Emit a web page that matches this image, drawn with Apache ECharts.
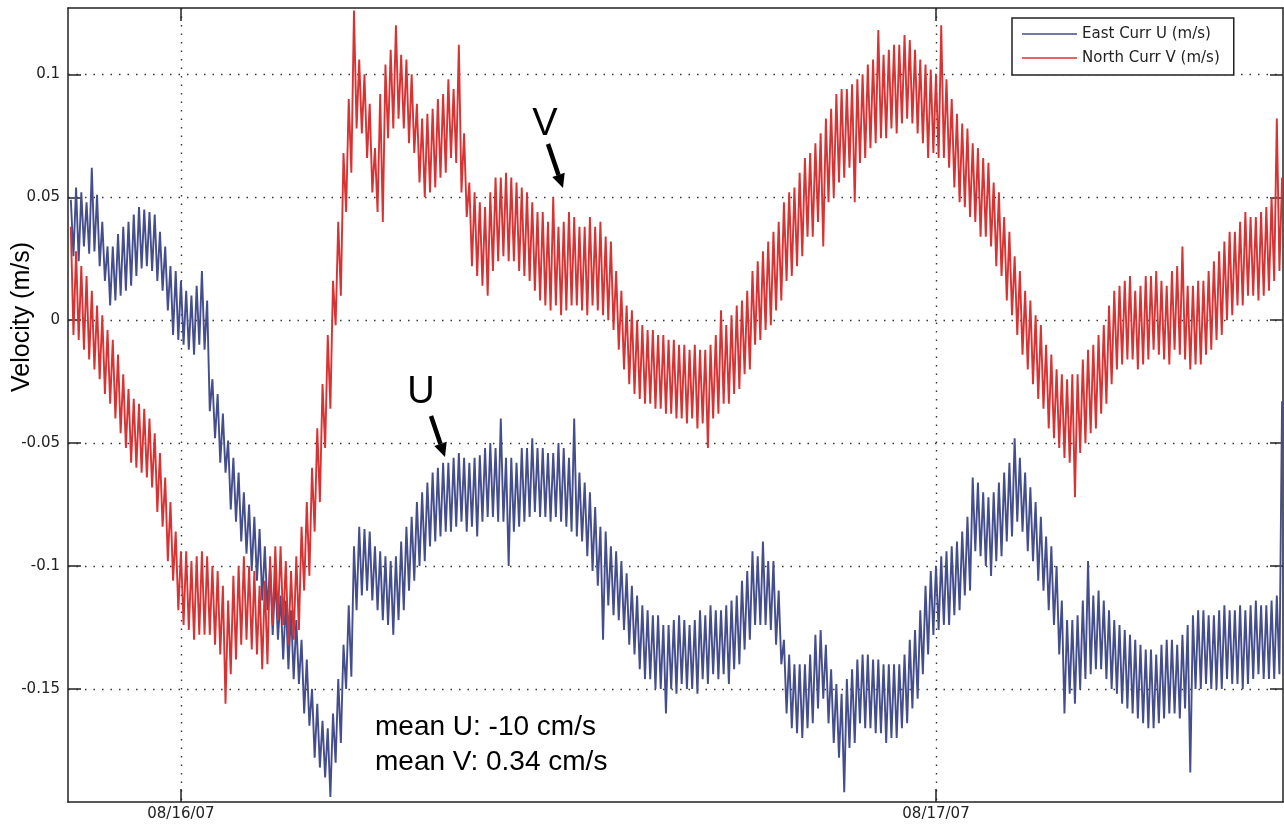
<!DOCTYPE html>
<html>
<head>
<meta charset="utf-8">
<title>Velocity</title>
<script src="https://cdn.jsdelivr.net/npm/echarts@6/dist/echarts.min.js"></script>
<style>
  html, body { margin: 0; padding: 0; background: #fff; }
  #main { width: 1284px; height: 824px; }
</style>
</head>
<body>
<div id="main"></div>
<script>
// current meter record, one sample every 5 minutes, hours from 08/16/07 00:00
var startHour = -3.5;
var stepHour = 5 / 60;
var dayTicks = [0, 24];
var dayLabels = ['08/16/07', '08/17/07'];
var velTicks = [-0.15, -0.1, -0.05, 0, 0.05, 0.1];
var seriesNames = ['East Curr U (m/s)', 'North Curr V (m/s)'];

// East component U (m/s)
var eastU = [
  0.049, 0.026, 0.054, 0.024, 0.052, 0.030, 0.048, 0.027, 0.062, 0.028, 0.051, 0.022,
  0.040, 0.016, 0.030, 0.006, 0.030, 0.008, 0.035, 0.010, 0.038, 0.012, 0.040, 0.014,
  0.043, 0.018, 0.046, 0.021, 0.045, 0.022, 0.044, 0.020, 0.043, 0.016, 0.036, 0.012,
  0.030, 0.004, 0.022, -0.006, 0.020, -0.008, 0.016, -0.010, 0.012, -0.012, 0.010, -0.014,
  0.014, -0.010, 0.020, -0.012, 0.008, -0.037, -0.024, -0.048, -0.030, -0.058, -0.038, -0.062,
  -0.049, -0.077, -0.056, -0.082, -0.062, -0.090, -0.070, -0.095, -0.075, -0.102, -0.080, -0.106,
  -0.085, -0.114, -0.092, -0.118, -0.100, -0.128, -0.104, -0.130, -0.112, -0.138, -0.114, -0.142,
  -0.118, -0.146, -0.122, -0.148, -0.130, -0.160, -0.138, -0.165, -0.150, -0.178, -0.156, -0.182,
  -0.163, -0.186, -0.166, -0.194, -0.160, -0.180, -0.146, -0.172, -0.132, -0.150, -0.116, -0.145,
  -0.092, -0.118, -0.084, -0.112, -0.085, -0.110, -0.086, -0.114, -0.092, -0.118, -0.094, -0.122,
  -0.096, -0.124, -0.098, -0.128, -0.096, -0.122, -0.090, -0.118, -0.084, -0.110, -0.080, -0.106,
  -0.074, -0.100, -0.070, -0.098, -0.066, -0.092, -0.062, -0.090, -0.060, -0.088, -0.058, -0.086,
  -0.058, -0.086, -0.056, -0.084, -0.054, -0.082, -0.056, -0.086, -0.058, -0.084, -0.056, -0.088,
  -0.055, -0.082, -0.052, -0.080, -0.050, -0.080, -0.052, -0.082, -0.040, -0.082, -0.056, -0.100,
  -0.056, -0.086, -0.058, -0.084, -0.052, -0.082, -0.052, -0.080, -0.048, -0.078, -0.052, -0.080,
  -0.052, -0.080, -0.054, -0.082, -0.054, -0.080, -0.050, -0.082, -0.052, -0.084, -0.056, -0.086,
  -0.040, -0.088, -0.062, -0.090, -0.066, -0.096, -0.070, -0.102, -0.076, -0.108, -0.084, -0.130,
  -0.086, -0.116, -0.092, -0.120, -0.094, -0.122, -0.098, -0.126, -0.103, -0.132, -0.108, -0.136,
  -0.112, -0.142, -0.116, -0.146, -0.118, -0.146, -0.120, -0.150, -0.120, -0.150, -0.124, -0.160,
  -0.124, -0.150, -0.122, -0.152, -0.120, -0.148, -0.122, -0.150, -0.124, -0.150, -0.122, -0.152,
  -0.118, -0.146, -0.120, -0.148, -0.116, -0.144, -0.118, -0.146, -0.118, -0.144, -0.116, -0.148,
  -0.114, -0.142, -0.112, -0.140, -0.106, -0.134, -0.102, -0.130, -0.094, -0.124, -0.096, -0.124,
  -0.090, -0.124, -0.098, -0.126, -0.098, -0.132, -0.110, -0.140, -0.130, -0.160, -0.136, -0.166,
  -0.140, -0.168, -0.140, -0.170, -0.140, -0.166, -0.136, -0.164, -0.128, -0.158, -0.126, -0.154,
  -0.132, -0.164, -0.142, -0.172, -0.148, -0.178, -0.152, -0.192, -0.146, -0.174, -0.142, -0.172,
  -0.138, -0.164, -0.136, -0.166, -0.136, -0.166, -0.138, -0.168, -0.138, -0.168, -0.140, -0.172,
  -0.140, -0.170, -0.140, -0.170, -0.140, -0.166, -0.136, -0.164, -0.130, -0.158, -0.126, -0.154,
  -0.118, -0.144, -0.108, -0.136, -0.102, -0.128, -0.100, -0.126, -0.096, -0.124, -0.094, -0.124,
  -0.092, -0.120, -0.090, -0.118, -0.086, -0.112, -0.080, -0.110, -0.064, -0.094, -0.066, -0.096,
  -0.070, -0.100, -0.072, -0.104, -0.070, -0.098, -0.066, -0.096, -0.062, -0.090, -0.058, -0.088,
  -0.048, -0.082, -0.056, -0.086, -0.062, -0.094, -0.068, -0.098, -0.074, -0.106, -0.080, -0.110,
  -0.088, -0.118, -0.092, -0.124, -0.100, -0.136, -0.114, -0.160, -0.122, -0.152, -0.122, -0.156,
  -0.120, -0.150, -0.114, -0.146, -0.098, -0.144, -0.112, -0.142, -0.110, -0.142, -0.114, -0.146,
  -0.118, -0.150, -0.122, -0.152, -0.124, -0.156, -0.126, -0.158, -0.128, -0.160, -0.130, -0.162,
  -0.132, -0.164, -0.134, -0.166, -0.134, -0.166, -0.136, -0.164, -0.132, -0.162, -0.130, -0.160,
  -0.130, -0.160, -0.132, -0.162, -0.128, -0.158, -0.124, -0.184, -0.120, -0.150, -0.118, -0.150,
  -0.118, -0.148, -0.120, -0.150, -0.120, -0.150, -0.118, -0.150, -0.116, -0.146, -0.118, -0.148,
  -0.118, -0.148, -0.116, -0.150, -0.118, -0.148, -0.116, -0.146, -0.114, -0.144, -0.116, -0.146,
  -0.116, -0.146, -0.114, -0.146, -0.112, -0.144, -0.033
];

// North component V (m/s)
var northV = [
  0.038, -0.006, 0.028, -0.008, 0.022, -0.012, 0.018, -0.016, 0.012, -0.020, 0.006, -0.024,
  0.002, -0.030, -0.004, -0.034, -0.008, -0.040, -0.014, -0.046, -0.022, -0.052, -0.028, -0.058,
  -0.032, -0.060, -0.034, -0.062, -0.036, -0.064, -0.040, -0.068, -0.046, -0.078, -0.054, -0.084,
  -0.064, -0.098, -0.074, -0.106, -0.086, -0.118, -0.094, -0.124, -0.094, -0.126, -0.098, -0.130,
  -0.096, -0.128, -0.094, -0.128, -0.096, -0.128, -0.100, -0.132, -0.102, -0.136, -0.108, -0.156,
  -0.114, -0.144, -0.104, -0.138, -0.100, -0.132, -0.096, -0.130, -0.100, -0.134, -0.102, -0.136,
  -0.108, -0.142, -0.106, -0.140, -0.096, -0.124, -0.092, -0.122, -0.092, -0.124, -0.098, -0.132,
  -0.102, -0.130, -0.096, -0.126, -0.084, -0.110, -0.074, -0.104, -0.060, -0.086, -0.044, -0.074,
  -0.026, -0.052, -0.006, -0.036, 0.016, -0.002, 0.040, 0.010, 0.068, 0.044, 0.090, 0.060,
  0.126, 0.078, 0.106, 0.076, 0.100, 0.066, 0.088, 0.052, 0.070, 0.044, 0.092, 0.040,
  0.104, 0.074, 0.110, 0.078, 0.120, 0.082, 0.108, 0.078, 0.106, 0.072, 0.100, 0.068,
  0.088, 0.056, 0.082, 0.050, 0.084, 0.052, 0.086, 0.054, 0.090, 0.058, 0.092, 0.060,
  0.098, 0.066, 0.094, 0.064, 0.112, 0.052, 0.076, 0.042, 0.056, 0.022, 0.052, 0.018,
  0.048, 0.014, 0.046, 0.010, 0.052, 0.020, 0.058, 0.024, 0.058, 0.026, 0.060, 0.024,
  0.058, 0.024, 0.056, 0.020, 0.054, 0.018, 0.052, 0.016, 0.048, 0.012, 0.044, 0.008,
  0.044, 0.006, 0.040, 0.004, 0.050, 0.006, 0.038, 0.002, 0.040, 0.004, 0.044, 0.006,
  0.042, 0.006, 0.038, 0.004, 0.038, 0.002, 0.042, 0.006, 0.038, 0.004, 0.040, 0.002,
  0.034, 0.000, 0.032, -0.004, 0.020, -0.012, 0.012, -0.020, 0.006, -0.026, 0.004, -0.030,
  0.000, -0.032, -0.002, -0.034, -0.004, -0.034, -0.004, -0.036, -0.006, -0.036, -0.006, -0.038,
  -0.008, -0.038, -0.008, -0.040, -0.010, -0.040, -0.010, -0.042, -0.012, -0.040, -0.010, -0.044,
  -0.012, -0.042, -0.012, -0.052, -0.010, -0.040, -0.006, -0.038, 0.004, -0.034, -0.002, -0.034,
  0.002, -0.030, 0.006, -0.028, 0.008, -0.022, 0.012, -0.020, 0.020, -0.010, 0.024, -0.008,
  0.028, -0.004, 0.032, -0.002, 0.036, 0.004, 0.040, 0.008, 0.048, 0.016, 0.052, 0.018,
  0.054, 0.022, 0.060, 0.026, 0.066, 0.034, 0.068, 0.034, 0.072, 0.040, 0.076, 0.030,
  0.082, 0.048, 0.086, 0.050, 0.092, 0.056, 0.094, 0.058, 0.094, 0.062, 0.096, 0.048,
  0.098, 0.064, 0.100, 0.066, 0.104, 0.070, 0.106, 0.072, 0.118, 0.074, 0.108, 0.074,
  0.110, 0.078, 0.112, 0.076, 0.112, 0.080, 0.116, 0.082, 0.114, 0.080, 0.110, 0.076,
  0.106, 0.072, 0.104, 0.066, 0.102, 0.068, 0.100, 0.066, 0.120, 0.066, 0.098, 0.062,
  0.090, 0.054, 0.084, 0.048, 0.080, 0.046, 0.078, 0.042, 0.072, 0.040, 0.070, 0.034,
  0.066, 0.034, 0.064, 0.030, 0.056, 0.022, 0.052, 0.018, 0.042, 0.008, 0.036, 0.002,
  0.026, -0.006, 0.020, -0.014, 0.012, -0.020, 0.008, -0.026, 0.002, -0.032, -0.002, -0.036,
  -0.010, -0.044, -0.014, -0.048, -0.020, -0.052, -0.022, -0.056, -0.024, -0.058, -0.022, -0.072,
  -0.022, -0.054, -0.016, -0.050, -0.012, -0.046, -0.010, -0.044, -0.006, -0.038, -0.002, -0.034,
  0.006, -0.026, 0.012, -0.020, 0.014, -0.018, 0.016, -0.016, 0.018, -0.016, 0.012, -0.020,
  0.014, -0.018, 0.018, -0.016, 0.018, -0.012, 0.020, -0.014, 0.016, -0.016, 0.014, -0.018,
  0.020, -0.012, 0.022, -0.014, 0.030, -0.016, 0.014, -0.020, 0.014, -0.018, 0.016, -0.018,
  0.016, -0.014, 0.020, -0.012, 0.024, -0.008, 0.028, -0.006, 0.032, 0.000, 0.036, 0.002,
  0.036, 0.006, 0.040, 0.006, 0.044, 0.010, 0.042, 0.010, 0.042, 0.008, 0.044, 0.010,
  0.046, 0.012, 0.050, 0.016, 0.082, 0.020, 0.058
];

function pairs(values) {
  return values.map(function (v, i) { return [startHour + i * stepHour, v]; });
}

var frame = { color: '#222', width: 1.5 };
var dotted = { type: [1.5, 7], color: '#333', width: 1.4 };
var tickFont = { fontFamily: 'DejaVu Sans', fontSize: 15, color: '#222' };

var myChart = echarts.init(document.getElementById('main'));

myChart.setOption({
  animation: false,
  backgroundColor: '#fff',
  grid: { left: 68, right: 1, top: 8, bottom: 22 },
  legend: {
    data: seriesNames,
    orient: 'vertical',
    left: 1012,
    top: 18,
    icon: 'rect',
    itemWidth: 55,
    itemHeight: 1.5,
    itemGap: 9,
    padding: [8.5, 14, 9.5, 10],
    borderColor: '#222',
    borderWidth: 1.5,
    backgroundColor: '#fff',
    textStyle: { fontFamily: 'DejaVu Sans', fontSize: 15, lineHeight: 15, color: '#222' }
  },
  xAxis: [
    {
      type: 'value', position: 'bottom', min: -3.59, max: 35.03,
      axisLine: { onZero: false, lineStyle: frame },
      axisTick: { inside: true, length: 13, customValues: dayTicks, lineStyle: frame },
      axisLabel: {
        customValues: dayTicks, margin: 5,
        fontFamily: tickFont.fontFamily, fontSize: tickFont.fontSize, color: tickFont.color,
        formatter: function (v) { return dayLabels[dayTicks.indexOf(v)] || ''; }
      },
      splitLine: { show: true, lineStyle: dotted }
    },
    {
      type: 'value', position: 'top', min: -3.59, max: 35.03,
      axisLine: { onZero: false, lineStyle: frame },
      axisTick: { inside: true, length: 13, customValues: dayTicks, lineStyle: frame },
      axisLabel: { show: false },
      splitLine: { show: false }
    }
  ],
  yAxis: [
    {
      type: 'value', position: 'left', min: -0.196, max: 0.127,
      axisLine: { show: true, onZero: false, lineStyle: frame },
      axisTick: { show: true, inside: true, length: 13, customValues: velTicks, lineStyle: frame },
      axisLabel: {
        customValues: velTicks, margin: 8,
        fontFamily: tickFont.fontFamily, fontSize: tickFont.fontSize, color: tickFont.color
      },
      splitLine: { show: true, lineStyle: dotted }
    },
    {
      type: 'value', position: 'right', min: -0.196, max: 0.127,
      axisLine: { show: true, onZero: false, lineStyle: frame },
      axisTick: { show: true, inside: true, length: 13, customValues: velTicks, lineStyle: frame },
      axisLabel: { show: false },
      splitLine: { show: false }
    }
  ],
  series: [
    {
      name: seriesNames[0], type: 'line', symbol: 'none',
      data: pairs(eastU),
      lineStyle: { color: '#454e8c', width: 1.9 },
      itemStyle: { color: '#454e8c' }
    },
    {
      name: seriesNames[1], type: 'line', symbol: 'none',
      data: pairs(northV),
      lineStyle: { color: '#d83232', width: 1.9 },
      itemStyle: { color: '#d83232' }
    }
  ],
  graphic: [
    {
      type: 'text', x: 22, y: 317, rotation: Math.PI / 2,
      style: { text: 'Velocity (m/s)', font: '25px "Liberation Sans", Arial, sans-serif', fill: '#000', textAlign: 'center', textVerticalAlign: 'middle' }
    },
    {
      type: 'text', x: 545, y: 125,
      style: { text: 'V', font: '38px "Liberation Sans", Arial, sans-serif', fill: '#000', textAlign: 'center', textVerticalAlign: 'middle' }
    },
    {
      type: 'line', shape: { x1: 548, y1: 144, x2: 558.5, y2: 175 },
      style: { stroke: '#000', lineWidth: 4.5 }
    },
    {
      type: 'polygon', shape: { points: [[563, 188], [552.3, 176.9], [564.7, 172.7]] },
      style: { fill: '#000' }
    },
    {
      type: 'text', x: 421, y: 393,
      style: { text: 'U', font: '38px "Liberation Sans", Arial, sans-serif', fill: '#000', textAlign: 'center', textVerticalAlign: 'middle' }
    },
    {
      type: 'line', shape: { x1: 431, y1: 416, x2: 440.5, y2: 444 },
      style: { stroke: '#000', lineWidth: 4.5 }
    },
    {
      type: 'polygon', shape: { points: [[445, 457], [434.3, 445.9], [446.7, 441.7]] },
      style: { fill: '#000' }
    },
    {
      type: 'text', x: 375, y: 727,
      style: { text: 'mean U: -10 cm/s', font: '28px "Liberation Sans", Arial, sans-serif', fill: '#000', textAlign: 'left', textVerticalAlign: 'middle' }
    },
    {
      type: 'text', x: 375, y: 762,
      style: { text: 'mean V: 0.34 cm/s', font: '28px "Liberation Sans", Arial, sans-serif', fill: '#000', textAlign: 'left', textVerticalAlign: 'middle' }
    }
  ]
});
</script>
</body>
</html>
